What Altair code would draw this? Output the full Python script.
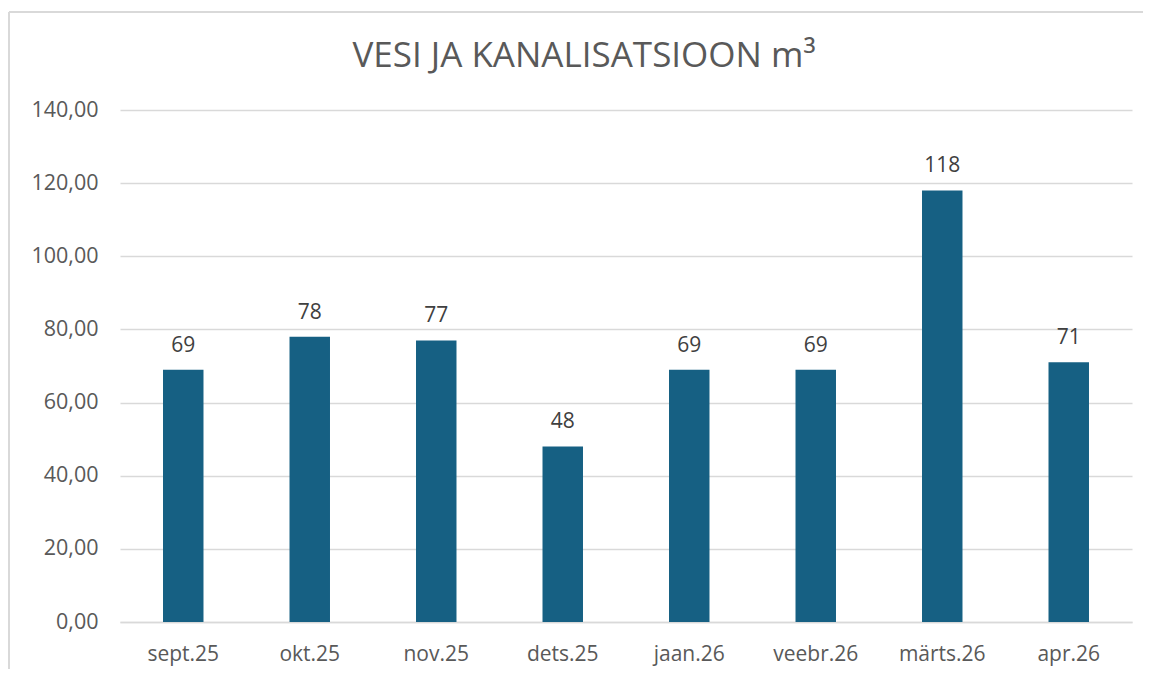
import altair as alt
import pandas as pd

months = ["sept.25", "okt.25", "nov.25", "dets.25", "jaan.26", "veebr.26", "märts.26", "apr.26"]
values = [69, 78, 77, 48, 69, 69, 118, 71]
y_ticks = [0, 20, 40, 60, 80, 100, 120, 140]

df = pd.DataFrame({"month": months, "value": values})

FONT = "Open Sans"
W, H = 1012, 512

x = alt.X("month:N", sort=months, title=None,
          scale=alt.Scale(paddingInner=0.68, paddingOuter=0.34),
          axis=alt.Axis(labelAngle=0, labelFont=FONT, labelFontSize=21, labelColor="#595959",
                        labelPadding=21, ticks=False, domain=True, domainColor="#d9d9d9",
                        domainWidth=1.5, grid=False))
y = alt.Y("value:Q", title=None,
          scale=alt.Scale(domain=[0, 140], nice=False),
          axis=alt.Axis(values=y_ticks, format=",.2f", labelFont=FONT, labelFontSize=21.5,
                        labelColor="#595959", labelPadding=22, ticks=False, domain=False,
                        grid=True, gridColor="#d9d9d9", gridWidth=1.3))

border_top = alt.Chart(df).mark_rule(stroke="#d9d9d9", strokeWidth=1.5, clip=False).encode(
    x=alt.value(-111), x2=alt.value(1023), y=alt.value(-98)
)
border_left = alt.Chart(df).mark_rule(stroke="#d9d9d9", strokeWidth=1.5, clip=False).encode(
    x=alt.value(-111), y=alt.value(-98), y2=alt.value(559)
)

bars = alt.Chart(df).mark_bar(color="#166083").encode(x=x, y=y)
labels = alt.Chart(df).mark_text(baseline="bottom", dy=-14, font=FONT, fontSize=21,
                                 color="#404040").encode(
    x=alt.X("month:N", sort=months), y="value:Q", text=alt.Text("value:Q", format="d"))

chart = alt.layer(border_top, border_left, bars, labels).properties(
    width=W, height=H,
    padding={"left": 112, "top": 102, "right": 11, "bottom": 47},
    autosize=alt.AutoSizeParams(type="none"),
    title=alt.TitleParams("VESI JA KANALISATSIOON m³", font=FONT, fontSize=35, fontWeight="normal",
                          color="#595959", anchor="middle", offset=-63, dx=-42),
).configure(
    locale={"number": {"decimal": ",", "thousands": "\u00a0", "grouping": [3], "currency": ["", " €"]}}
).configure_view(stroke=None)

chart.save("out.html", embed_options={"renderer": "svg", "actions": False})
